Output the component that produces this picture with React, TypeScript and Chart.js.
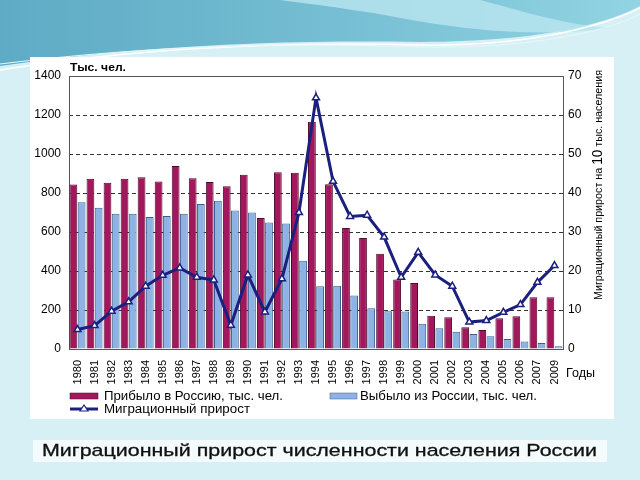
import React, { useEffect, useRef } from 'react';
import { Chart, registerables } from 'chart.js';

Chart.register(...registerables);

const FONT = '"Liberation Sans", Arial, sans-serif';

const years = [
  '1980', '1981', '1982', '1983', '1984', '1985', '1986', '1987', '1988', '1989',
  '1990', '1991', '1992', '1993', '1994', '1995', '1996', '1997', '1998', '1999',
  '2000', '2001', '2002', '2003', '2004', '2005', '2006', '2007', '2009',
];

// Прибыло в Россию, тыс. чел.
const arrivals = [
  843, 873, 852, 873, 881, 859, 939, 876, 857, 835,
  894, 672, 907, 904, 1165, 845, 620, 569, 488, 356,
  339, 171, 163, 111, 98, 158, 168, 266, 266,
];

// Выбыло из России, тыс. чел.
const departures = [
  752, 724, 693, 693, 677, 682, 693, 743, 760, 710,
  700, 649, 644, 452, 322, 324, 274, 209, 194, 192,
  129, 106, 89, 77, 65, 51, 38, 31, 14,
];

// Миграционный прирост на 10 тыс. населения
const migrationGrowth = [
  5.0, 6.0, 9.7, 12.1, 16.1, 18.9, 20.8, 18.4, 17.7, 6.1,
  19.0, 9.5, 18.0, 35.0, 64.4, 43.0, 34.0, 34.3, 28.7, 18.4,
  24.8, 19.0, 16.1, 6.9, 7.3, 9.4, 11.4, 17.1, 21.4,
];

const leftMax = 1400;
const leftStep = 200;
const rightMax = 70;
const rightStep = 10;

const RED = '#a3175c';
const RED_BORDER = '#4d0a2c';
const BLUE = '#8cb3e4';
const BLUE_BORDER = '#3d5f8f';
const NAVY = '#1b1f7e';

export default function App() {
  const ref = useRef<HTMLCanvasElement>(null);

  useEffect(() => {
    const plotBorder = {
      id: 'plotBorder',
      beforeDatasetsDraw(chart: any) {
        const { ctx, chartArea: a } = chart;
        ctx.save();
        ctx.strokeStyle = '#555';
        ctx.lineWidth = 1;
        ctx.strokeRect(
          Math.round(a.left) + 0.5,
          Math.round(a.top) + 0.5,
          Math.round(a.right - a.left),
          Math.round(a.bottom - a.top)
        );
        ctx.restore();
      },
    };

    const chart = new Chart(ref.current as HTMLCanvasElement, {
      type: 'bar',
      data: {
        labels: years,
        datasets: [
          {
            type: 'line',
            label: 'Миграционный прирост',
            data: migrationGrowth,
            yAxisID: 'y1',
            order: 0,
            borderColor: NAVY,
            borderWidth: 3,
            pointStyle: 'triangle',
            pointRadius: 4,
            pointBackgroundColor: '#ffffff',
            pointBorderColor: NAVY,
            pointBorderWidth: 1.5,
            tension: 0,
          } as any,
          {
            type: 'bar',
            label: 'Прибыло в Россию, тыс. чел.',
            data: arrivals,
            yAxisID: 'y',
            order: 1,
            backgroundColor: RED,
            borderColor: RED_BORDER,
            borderWidth: 1,
            barPercentage: 0.95,
            categoryPercentage: 0.96,
          },
          {
            type: 'bar',
            label: 'Выбыло из России, тыс. чел.',
            data: departures,
            yAxisID: 'y',
            order: 1,
            backgroundColor: BLUE,
            borderColor: BLUE_BORDER,
            borderWidth: 1,
            barPercentage: 0.95,
            categoryPercentage: 0.96,
          },
        ],
      },
      options: {
        responsive: false,
        maintainAspectRatio: false,
        animation: false,
        layout: { padding: { top: 19, left: 0, right: 0, bottom: 0 } },
        plugins: {
          legend: { display: false },
          tooltip: { enabled: false },
        },
        scales: {
          x: {
            grid: { display: false },
            border: { display: false },
            ticks: {
              autoSkip: false,
              minRotation: 90,
              maxRotation: 90,
              color: '#000',
              font: { family: FONT, size: 11 },
              padding: 3,
            },
            afterFit: (s: any) => {
              s.height = 70;
            },
          },
          y: {
            position: 'left',
            min: 0,
            max: leftMax,
            ticks: {
              stepSize: leftStep,
              color: '#000',
              font: { family: FONT, size: 12 },
              padding: 8,
              callback: (v: any) => String(v),
            },
            grid: {
              color: (c: any) =>
                c.tick && (c.tick.value === 0 || c.tick.value === leftMax)
                  ? 'rgba(0,0,0,0)'
                  : '#333',
              drawTicks: false,
              lineWidth: 1,
            },
            border: { display: false, dash: [4, 3] },
            afterFit: (s: any) => {
              s.width = 39;
            },
          },
          y1: {
            position: 'right',
            min: 0,
            max: rightMax,
            ticks: {
              stepSize: rightStep,
              color: '#000',
              font: { family: FONT, size: 12 },
              padding: 5,
              callback: (v: any) => String(v),
            },
            grid: { display: false, drawTicks: false },
            border: { display: false },
            afterFit: (s: any) => {
              s.width = 51;
            },
          },
        },
      } as any,
      plugins: [plotBorder],
    });
    return () => chart.destroy();
  }, []);

  return (
    <div
      style={{
        position: 'fixed',
        left: 0,
        top: 0,
        width: 640,
        height: 480,
        overflow: 'hidden',
        background: '#d7f0f5',
        fontFamily: FONT,
      }}
    >
      <svg
        width={640}
        height={480}
        style={{ position: 'absolute', left: 0, top: 0 }}
      >
        <defs>
          <linearGradient id="wave" x1="0" y1="0" x2="1" y2="0">
            <stop offset="0" stopColor="#5fabc5" />
            <stop offset="0.5" stopColor="#74bdd2" />
            <stop offset="1" stopColor="#92d4e3" />
          </linearGradient>
        </defs>
        <path
          d="M0,0 H640 V6 C600,28 520,42 420,42 C300,40 150,44 0,66 Z"
          fill="url(#wave)"
        />
        <path
          d="M280,0 H480 C520,10 560,24 610,28 C540,38 460,30 390,16 C340,7 300,3 280,0 Z"
          fill="#b6e4ee"
          opacity={0.85}
        />
        <path
          d="M0,70 C150,46 300,42 420,45 C520,47 600,28 640,8"
          stroke="#ffffff"
          strokeWidth={1.5}
          fill="none"
        />
        <path
          d="M0,64 C160,44 300,43 420,47 C530,49 610,31 640,14"
          stroke="#e8f8fb"
          strokeWidth={1}
          fill="none"
        />
        <rect x={30} y={57} width={584} height={362} fill="#ffffff" />
        <rect x={33} y={440} width={574} height={22} fill="#f4fbfc" />
      </svg>

      <canvas
        ref={ref}
        width={584}
        height={362}
        style={{ position: 'absolute', left: 30, top: 57, width: 584, height: 362 }}
      />

      <svg
        width={640}
        height={480}
        style={{ position: 'absolute', left: 0, top: 0, pointerEvents: 'none' }}
        fontFamily={FONT}
      >
        <text x={70} y={71} fontSize={11} fontWeight="bold" fill="#000" textLength={56} lengthAdjust="spacingAndGlyphs">
          Тыс. чел.
        </text>
        <text x={566} y={377} fontSize={12} fill="#000" textLength={29} lengthAdjust="spacingAndGlyphs">
          Годы
        </text>
        <text
          transform="translate(602,300) rotate(-90)"
          fontSize={11}
          fill="#000"
          textLength={230}
          lengthAdjust="spacingAndGlyphs"
        >
          Миграционный прирост на <tspan fontSize={14}>10</tspan> тыс. населения
        </text>

        {/* legend */}
        <rect x={70} y={393} width={28} height={6} fill={RED} stroke={RED_BORDER} strokeWidth={0.5} />
        <text x={104} y={400} fontSize={12} fill="#000" textLength={179} lengthAdjust="spacingAndGlyphs">
          Прибыло в Россию, тыс. чел.
        </text>
        <rect x={330} y={393} width={27} height={6} fill={BLUE} stroke={BLUE_BORDER} strokeWidth={0.5} />
        <text x={360} y={400} fontSize={12} fill="#000" textLength={177} lengthAdjust="spacingAndGlyphs">
          Выбыло из России, тыс. чел.
        </text>
        <line x1={70} y1={409} x2={98} y2={409} stroke={NAVY} strokeWidth={3} />
        <path d="M84,405 L88,411 L80,411 Z" fill="#ffffff" stroke={NAVY} strokeWidth={1.2} />
        <text x={104} y={413} fontSize={12} fill="#000" textLength={146} lengthAdjust="spacingAndGlyphs">
          Миграционный прирост
        </text>

        <text x={42} y={456} fontSize={17} fill="#111" textLength={555} lengthAdjust="spacingAndGlyphs" stroke="#111" strokeWidth={0.3}>
          Миграционный прирост численности населения России
        </text>
      </svg>
    </div>
  );
}
